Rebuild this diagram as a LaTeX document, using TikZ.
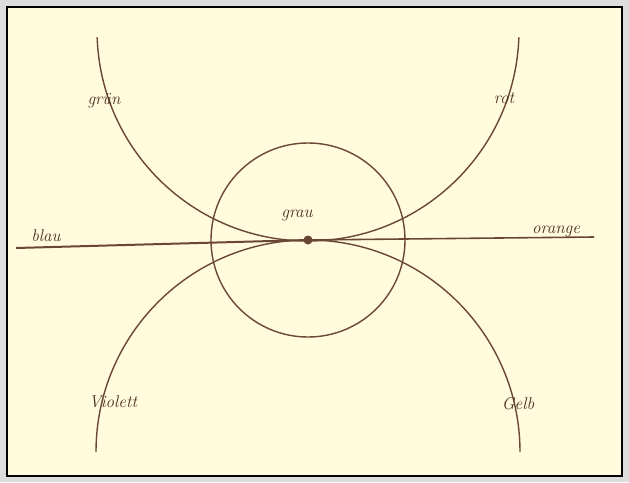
\documentclass[tikz,border=0pt]{standalone}
\definecolor{framegray}{HTML}{DDDDDD}
\definecolor{cream}{HTML}{FFFBDC}
\definecolor{inkc}{HTML}{6A4634}
\definecolor{textc}{HTML}{4A2F20}
\begin{document}
\begin{tikzpicture}[x=1pt,y=-1pt,
  ink/.style={draw=inkc, line width=1.4pt},
  lbl/.style={text=textc, font=\fontsize{17}{19}\selectfont\itshape, inner sep=0pt}]
\fill[framegray] (0,0) rectangle (629,482);
\fill[cream] (7,7) rectangle (622,476);
\draw[black, line width=2pt] (7,7) rectangle (622,476);
\useasboundingbox (0,0) rectangle (629,482);
% centre
\coordinate (c) at (308,240);
\node[circle, draw=inkc, line width=1.4pt, minimum size=194pt, inner sep=0pt] (big) at (c) {};
% upper semicircle (gruen - rot)
\coordinate (ucen) at (308,30);
\draw[ink] (ucen) ++(178:211) arc[start angle=178, end angle=2, radius=211];
% lower semicircle (violett - gelb)
\coordinate (lcen) at (308,452);
\draw[ink] (lcen) ++(180:212) arc[start angle=180, end angle=360, radius=212];
% horizontal line
\node[circle, fill=inkc, minimum size=9pt, inner sep=0pt] (dot) at (c) {};
\coordinate (bl) at (16,248);
\coordinate (or) at (594,237);
\draw[ink, line width=2pt] (bl) -- (dot.center);
\draw[ink, line width=1.6pt] (dot.center) -- (or);
% labels
\node[lbl] (grau) at (297,215) {grau};
\node[lbl] (blau) at (46,236) {blau};
\node[lbl] (orange) at (556,231) {orange};
\node[lbl] (gruen) at (104,101) {grün};
\node[lbl] (rot) at (504,98) {rot};
\node[lbl] (violett) at (113,402) {Violett};
\node[lbl] (gelb) at (518,404) {Gelb};
\end{tikzpicture}
\end{document}
